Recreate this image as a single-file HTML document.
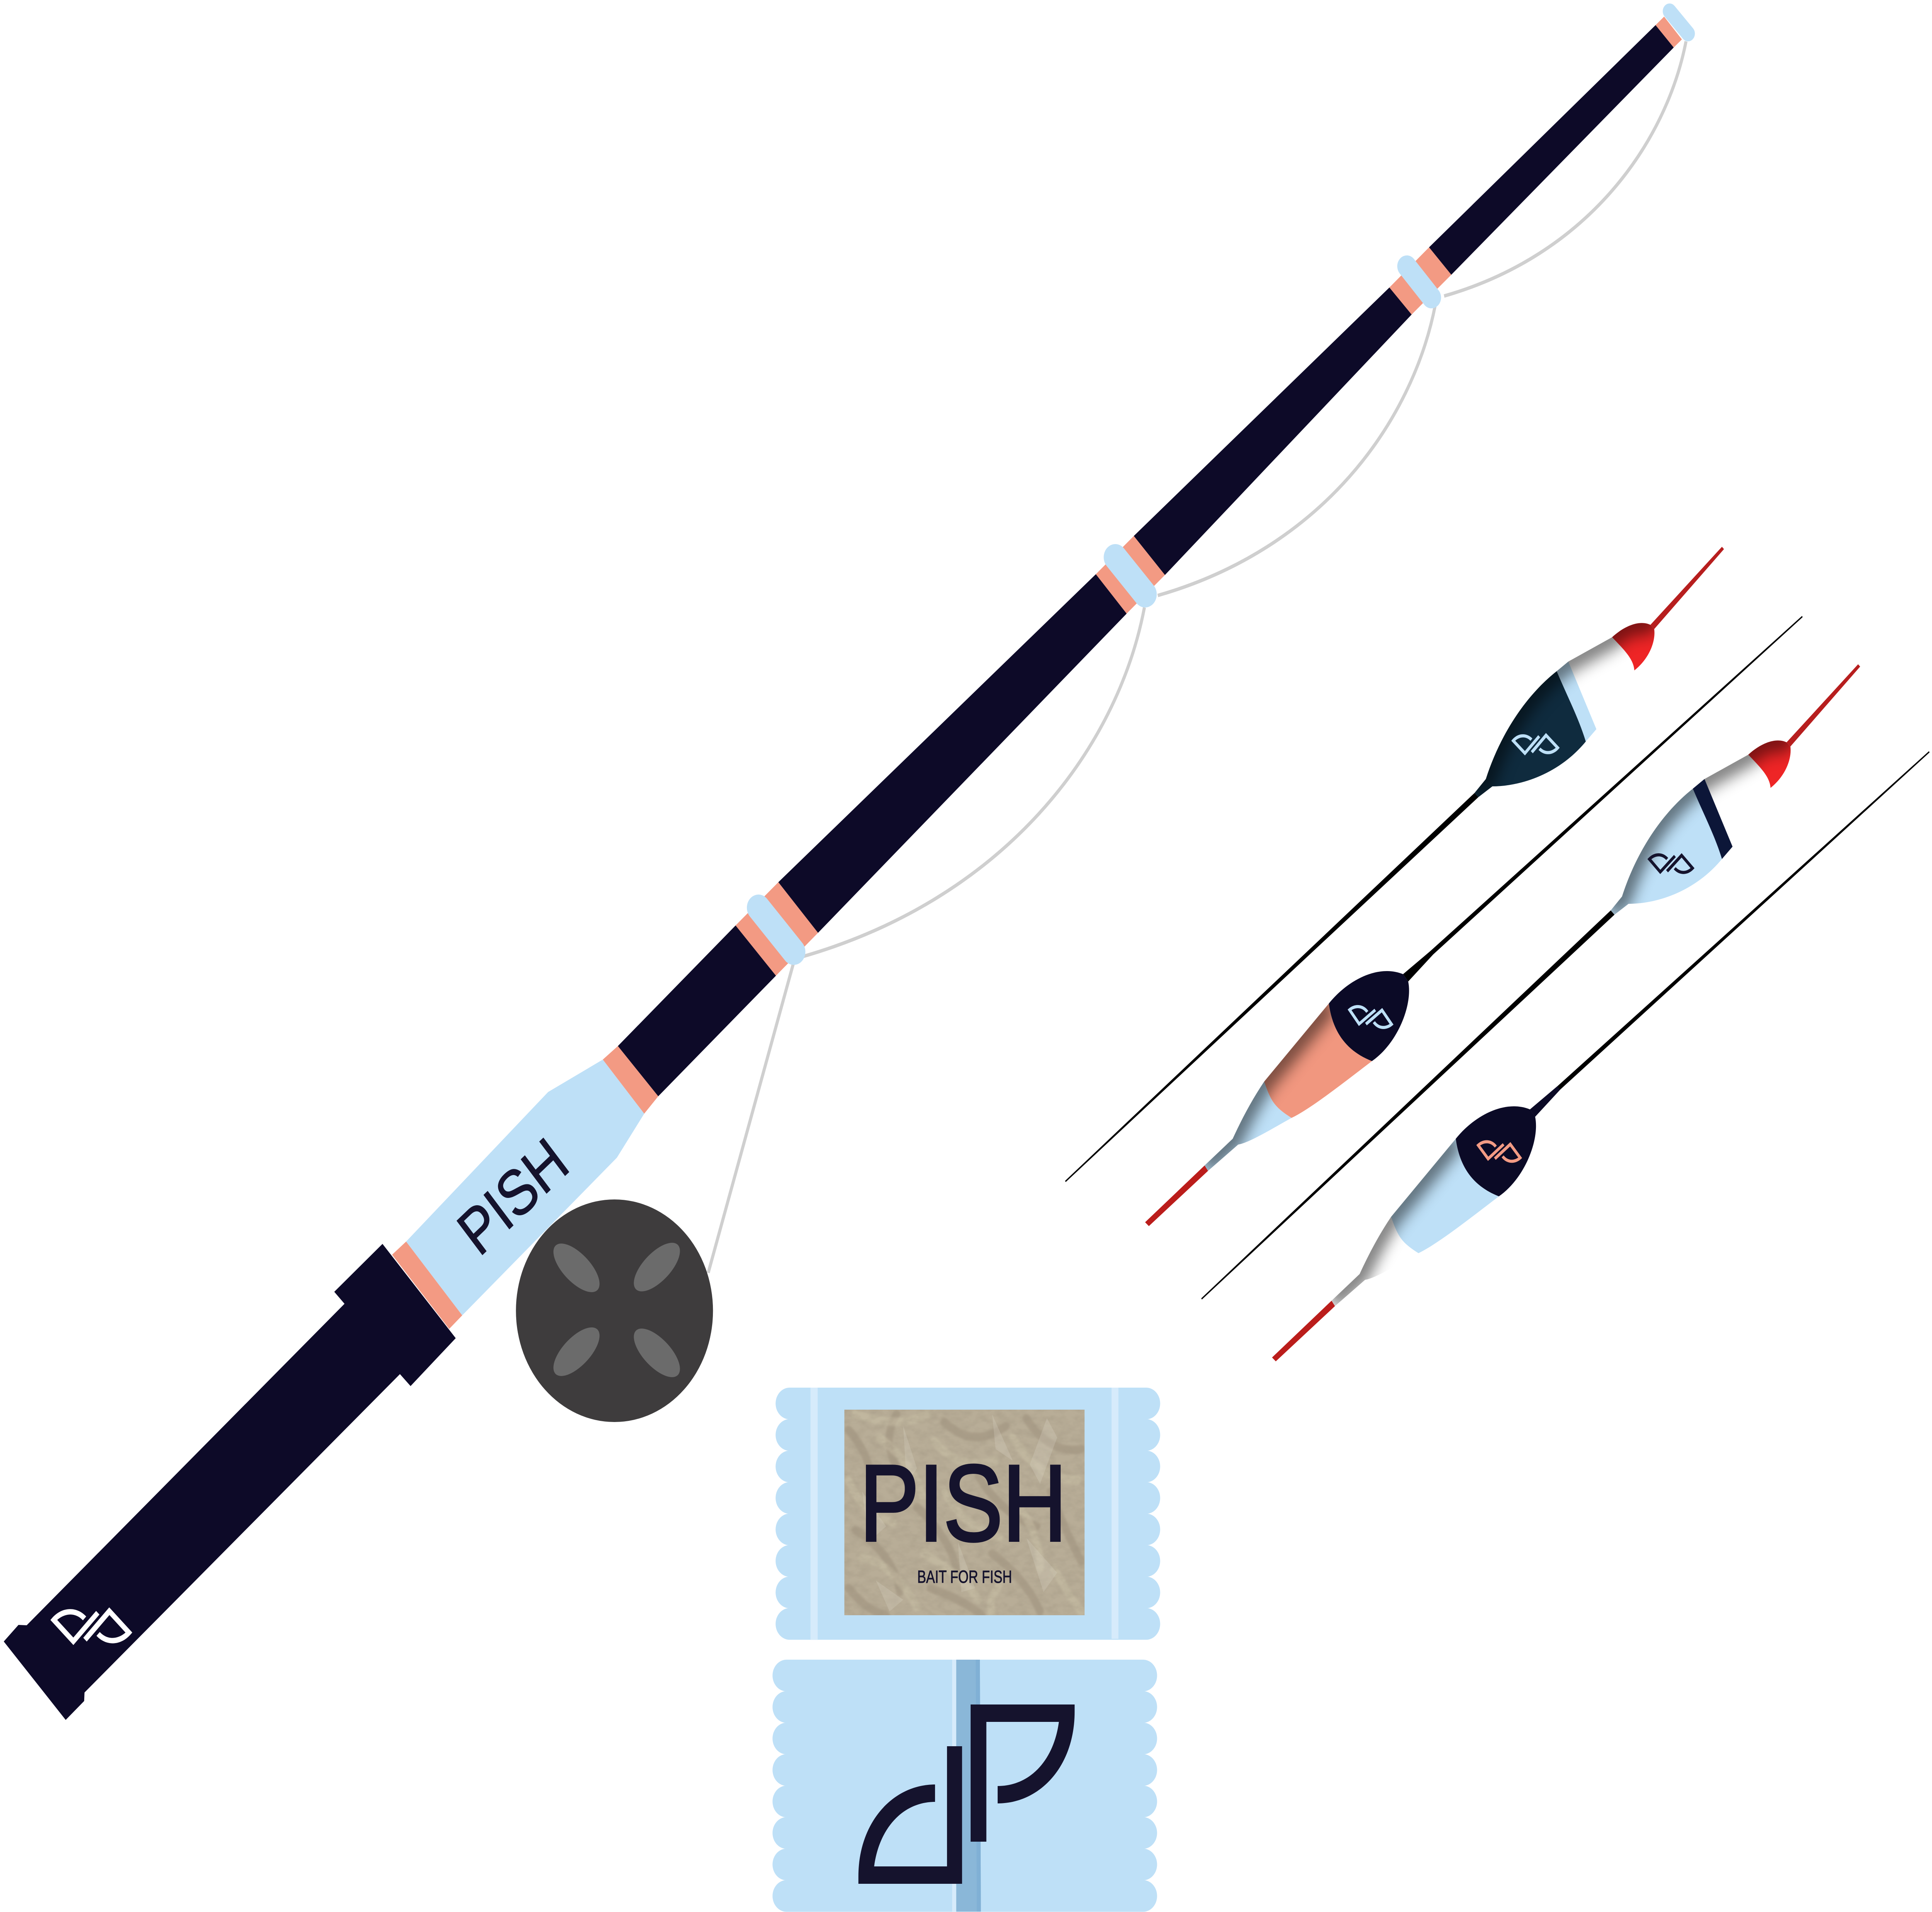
<!DOCTYPE html>
<html>
<head>
<meta charset="utf-8">
<title>PISH</title>
<style>
html,body{margin:0;padding:0;background:#fff;overflow:hidden;width:100%;height:100%}
svg{display:block;position:absolute;left:0;top:0;width:100vw;height:100vh}
text{font-family:"Liberation Sans",sans-serif;fill:#15132d}
</style>
</head>
<body>
<svg xmlns="http://www.w3.org/2000/svg" viewBox="0 0 5647 4948" preserveAspectRatio="none">
<defs>
<g id="logo">
<path d="M12 -232H316V-213C316 -73 215 24 91 24V-21C185 -21 255 -87 270 -187H58V123H12Z"/>
<path d="M-13 -124V232H-316V213C-316 73 -215 -25 -92 -25V20C-185 20 -255 87 -270 187H-57V-124Z"/>
</g>
<filter id="b" x="-40%" y="-40%" width="180%" height="180%"><feGaussianBlur stdDeviation="20"/></filter>
<filter id="b2" x="-20%" y="-20%" width="140%" height="140%"><feGaussianBlur stdDeviation="3"/></filter>
<filter id="noise" x="0" y="0" width="100%" height="100%">
<feTurbulence type="fractalNoise" baseFrequency="0.035 0.06" numOctaves="3" seed="7"/>
<feColorMatrix type="matrix" values="0 0 0 0 0.35  0 0 0 0 0.30  0 0 0 0 0.22  1.6 0 0 0 -0.55"/>
</filter>
<clipPath id="cUpper"><path d="M4310 2052L4343 2016C4385 1900 4460 1800 4550 1737L4584 1712L4712 1649C4745 1622 4790 1603 4824 1617L4835 1628C4840 1660 4820 1705 4777 1735L4666 1887L4635 1919C4560 2000 4450 2035 4362 2035L4321 2063Z"/></clipPath>
<clipPath id="cLower"><path d="M3884 2597L3695 2799C3660 2845 3630 2895 3603 2947L3521 3016L3531 3030L3619 2962C3650 2958 3720 2920 3775 2893C3830 2870 3930 2800 4010 2746C3935 2720 3895 2670 3884 2597Z"/></clipPath>
<clipPath id="cPic"><rect x="2468" y="3648" width="702" height="532"/></clipPath>
<g id="pack">
<rect x="0" y="0" width="1124" height="82" rx="41"/>
<rect x="0" y="81.5" width="1124" height="82" rx="41"/>
<rect x="0" y="163" width="1124" height="82" rx="41"/>
<rect x="0" y="244.5" width="1124" height="82" rx="41"/>
<rect x="0" y="326" width="1124" height="82" rx="41"/>
<rect x="0" y="407.5" width="1124" height="82" rx="41"/>
<rect x="0" y="489" width="1124" height="82" rx="41"/>
<rect x="0" y="570.5" width="1124" height="82" rx="41"/>
<rect x="41" y="0" width="1042" height="652"/>
</g>
</defs>

<rect width="5647" height="4948" fill="#fff"/>

<!-- fishing line -->
<g fill="none" stroke="#cfcfcf" stroke-width="9">
<path d="M4928 107C4870 370 4640 660 4221 766"/>
<path d="M4195 790C4128 1092 3865 1419 3384 1541"/>
<path d="M3345 1572C3265 1942 2934 2326 2344 2476"/>
<path d="M2320 2490L2070 3294"/>
</g>

<!-- rod -->
<path fill="#bee0f7" d="M1187 3213L1602 2826L1762 2742L1883 2882L1803 2996L1351 3404Z"/>
<path fill="#f39a83" d="M1146 3247L1187 3213L1351 3404L1313 3439Z"/>
<path fill="#f39a83" d="M1762 2742L1806 2707L1924 2837L1883 2882Z"/>
<path fill="#f39a83" d="M2150 2395L2275 2283L2391 2414L2268 2525Z"/>
<path fill="#f39a83" d="M3203 1486L3314 1387L3405 1488L3293 1588Z"/>
<path fill="#f39a83" d="M4061 744L4177 640L4242 711L4126 814Z"/>
<path fill="#f39a83" d="M4839 65L4864 43L4916 102L4892 123Z"/>
<g fill="#0d0a28">
<path d="M11 4248L54 4205L78 4206L1007 3374L977 3343L1118 3219L1332 3463L1200 3587L1169 3556L247 4380L246 4402L192 4451Z"/>
<path d="M1806 2707L2150 2395L2268 2525L1924 2837Z"/>
<path d="M2275 2283L3203 1486L3293 1588L2391 2414Z"/>
<path d="M3314 1387L4061 744L4126 814L3405 1488Z"/>
<path d="M4177 640L4839 65L4892 123L4242 711Z"/>
</g>
<g stroke="#bee0f7" stroke-linecap="round" fill="none">
<path stroke-width="68" d="M2217 2349L2320 2463"/>
<path stroke-width="68" d="M3260 1442L3347 1538"/>
<path stroke-width="56" d="M4112 689L4184 770"/>
<path stroke-width="40" d="M4880 29L4934 87"/>
</g>
<use href="#logo" fill="#fff" transform="translate(267 4208.5) rotate(44) scale(.308)"/>
<text transform="translate(1400.5 3255) rotate(-40.3)" font-size="167" textLength="356" lengthAdjust="spacingAndGlyphs" stroke="#15132d" stroke-width="2">PISH</text>

<!-- reel -->
<circle cx="1796" cy="3392" r="288" fill="#3e3c3d"/>
<g fill="#6b6b6b">
<ellipse cx="0" cy="0" rx="84" ry="38" transform="translate(1685 3281) rotate(42)"/>
<ellipse cx="0" cy="0" rx="84" ry="38" transform="translate(1920 3279) rotate(-42)"/>
<ellipse cx="0" cy="0" rx="84" ry="38" transform="translate(1685 3498) rotate(-42)"/>
<ellipse cx="0" cy="0" rx="84" ry="38" transform="translate(1920 3501) rotate(42)"/>
</g>

<!-- upper float 1 -->
<g>
<path fill="#000" d="M4310 2052L4321 2063L3115 3059L3113 3056Z"/>
<path fill="#b71e1e" d="M4824 1617L5033 1415L5039 1421L4835 1628Z"/>
<path fill="#fff" d="M4584 1712L4712 1649C4745 1680 4775 1705 4777 1735L4666 1887Z"/>
<path fill="#bee0f7" d="M4550 1737L4584 1712L4666 1887L4635 1919C4615 1860 4580 1800 4550 1737Z"/>
<path fill="#0f2b3e" d="M4310 2052L4343 2016C4385 1900 4460 1800 4550 1737C4580 1800 4615 1860 4635 1919C4560 2000 4450 2035 4362 2035L4321 2063Z"/>
<path fill="#ee2526" d="M4712 1649C4745 1622 4790 1603 4824 1617L4835 1628C4840 1660 4820 1705 4777 1735C4775 1705 4745 1680 4712 1649Z"/>
<g clip-path="url(#cUpper)"><path fill="none" stroke="#000" stroke-width="60" opacity=".5" filter="url(#b)" d="M4310 2052L4343 2016C4385 1900 4460 1800 4550 1737L4584 1712L4712 1649C4745 1622 4790 1603 4824 1617L4835 1628"/></g>
<use href="#logo" fill="#bee0f7" transform="translate(4488 1926) rotate(43.5) scale(.182)"/>
</g>

<!-- upper float 2 -->
<g transform="translate(398 304)">
<path fill="#000" d="M4310 2052L4321 2063L3115 3059L3113 3056Z"/>
<path fill="#b71e1e" d="M4824 1617L5033 1415L5039 1421L4835 1628Z"/>
<path fill="#fff" d="M4584 1712L4712 1649C4745 1680 4775 1705 4777 1735L4666 1887Z"/>
<path fill="#bee0f7" d="M4310 2052L4343 2016C4385 1900 4460 1800 4550 1737C4580 1800 4615 1860 4635 1919C4560 2000 4450 2035 4362 2035L4321 2063Z"/>
<path fill="#ee2526" d="M4712 1649C4745 1622 4790 1603 4824 1617L4835 1628C4840 1660 4820 1705 4777 1735C4775 1705 4745 1680 4712 1649Z"/>
<g clip-path="url(#cUpper)"><path fill="none" stroke="#000" stroke-width="60" opacity=".5" filter="url(#b)" d="M4310 2052L4343 2016C4385 1900 4460 1800 4550 1737L4584 1712L4712 1649C4745 1622 4790 1603 4824 1617L4835 1628"/></g>
<path fill="#0c1638" d="M4550 1737L4584 1712L4666 1887L4635 1919C4615 1860 4580 1800 4550 1737Z"/>
<use href="#logo" fill="#15132d" transform="translate(4486 1931) rotate(46) scale(.178)"/>
</g>

<!-- lower float 3 -->
<g>
<path fill="#000" d="M4101 2521L4181 2461L5267 1594L5269 1597L4189 2470L4116 2540Z"/>
<path fill="#bb1d1b" d="M3521 3016L3531 3030L3358 3173L3347 3163Z"/>
<path fill="#bee0f7" d="M3695 2799C3660 2845 3630 2895 3603 2947L3521 3016L3531 3030L3619 2962C3650 2958 3720 2920 3775 2893C3725 2865 3715 2850 3695 2799Z"/>
<path fill="#f1977f" d="M3884 2597L3695 2799C3715 2850 3725 2865 3775 2893C3830 2870 3930 2800 4010 2746C3935 2720 3895 2670 3884 2597Z"/>
<g clip-path="url(#cLower)"><path fill="none" stroke="#000" stroke-width="60" opacity=".5" filter="url(#b)" d="M3884 2597L3695 2799C3660 2845 3630 2895 3603 2947L3521 3016"/></g>
<path fill="#0b0a26" d="M3884 2597C3940 2535 4030 2495 4101 2521L4116 2540C4130 2600 4085 2700 4010 2746C3935 2720 3895 2670 3884 2597Z"/>
<use href="#logo" fill="#bee0f7" transform="translate(4006 2632) rotate(52.5) scale(.178)"/>
</g>

<!-- lower float 4 -->
<g transform="translate(371 350)">
<path fill="#000" d="M4101 2521L4181 2461L5267 1594L5269 1597L4189 2470L4116 2540Z"/>
<path fill="#0b0a26" d="M4101 2521L4181 2461L4189 2470L4116 2540Z"/>
<path fill="#bb1d1b" d="M3521 3016L3531 3030L3358 3173L3347 3163Z"/>
<path fill="#fff" d="M3695 2799C3660 2845 3630 2895 3603 2947L3521 3016L3531 3030L3619 2962C3650 2958 3720 2920 3775 2893C3725 2865 3715 2850 3695 2799Z"/>
<path fill="#bee0f7" d="M3884 2597L3695 2799C3715 2850 3725 2865 3775 2893C3830 2870 3930 2800 4010 2746C3935 2720 3895 2670 3884 2597Z"/>
<g clip-path="url(#cLower)"><path fill="none" stroke="#000" stroke-width="60" opacity=".5" filter="url(#b)" d="M3884 2597L3695 2799C3660 2845 3630 2895 3603 2947L3521 3016"/></g>
<path fill="#0b0a26" d="M3884 2597C3940 2535 4030 2495 4101 2521L4116 2540C4130 2600 4085 2700 4010 2746C3935 2720 3895 2670 3884 2597Z"/>
<use href="#logo" fill="#f39b84" transform="translate(4011 2630) rotate(50.3) scale(.176)"/>
</g>

<!-- top pack -->
<use href="#pack" fill="#bee0f7" transform="translate(2267 3591)"/>
<rect x="2369" y="3591" width="21" height="652" fill="#d6ebfb"/>
<rect x="3249" y="3591" width="20" height="650" fill="#d6ebfb"/>
<rect x="2468" y="3648" width="702" height="532" fill="#b8ad97"/>
<g clip-path="url(#cPic)">
<g filter="url(#b2)" fill="none" stroke-linecap="round" stroke-width="22">
<g stroke="#938670" opacity=".4">
<path d="M2480 3700C2540 3760 2560 3830 2540 3900"/>
<path d="M2620 3660C2580 3720 2600 3790 2660 3840"/>
<path d="M2760 3680C2820 3730 2880 3730 2940 3690"/>
<path d="M3000 3670C3040 3730 3100 3760 3160 3750"/>
<path d="M2500 3960C2560 3990 2620 4050 2630 4120"/>
<path d="M2680 3900C2740 3950 2790 4010 2800 4080"/>
<path d="M2860 3820C2900 3880 2960 3930 3030 3950"/>
<path d="M3070 3860C3100 3930 3130 3990 3160 4040"/>
<path d="M2900 4020C2960 4060 3010 4110 3040 4170"/>
<path d="M2720 4110C2780 4130 2830 4150 2870 4180"/>
<path d="M2480 4110C2510 4140 2540 4170 2590 4180"/>
</g>
<g stroke="#cdc3a9" opacity=".45">
<path d="M2500 3660C2570 3680 2650 3690 2710 3660"/>
<path d="M2570 3720C2630 3760 2680 3810 2700 3880"/>
<path d="M2730 3730C2790 3790 2850 3800 2910 3780"/>
<path d="M2960 3720C3010 3790 3060 3830 3150 3830"/>
<path d="M2480 3830C2500 3880 2550 3920 2610 3940"/>
<path d="M2760 3860C2800 3920 2850 3960 2920 3980"/>
<path d="M2960 3880C3010 3930 3040 3990 3040 4060"/>
<path d="M2520 4030C2580 4040 2640 4090 2680 4160"/>
<path d="M2700 4020C2760 4050 2820 4090 2860 4140"/>
<path d="M3080 4060C3110 4100 3130 4140 3160 4170"/>
<path d="M2920 4100C2900 4130 2890 4150 2900 4180"/>
</g>
</g>
<rect x="2468" y="3648" width="702" height="532" filter="url(#noise)" opacity=".45"/>
<g fill="#e4dfd2" opacity=".22">
<path d="M2640 3690L2680 3800L2650 3840Z"/>
<path d="M2900 3660L2960 3780L2910 3750Z"/>
<path d="M3060 3670L3010 3790L3040 3840L3090 3720Z"/>
<path d="M2520 3860L2590 3950L2540 3990Z"/>
<path d="M2800 3990L2850 4110L2810 4120Z"/>
<path d="M3000 3980L3090 4070L3050 4120Z"/>
<path d="M2560 4090L2640 4140L2600 4170Z"/>
</g>
</g>
<text x="2513" y="3986.5" font-size="280" textLength="605" lengthAdjust="spacingAndGlyphs" stroke="#15132d" stroke-width="7">PISH</text>
<text x="2681" y="4096" font-size="45" textLength="277" lengthAdjust="spacingAndGlyphs" stroke="#15132d" stroke-width="1">BAIT FOR FISH</text>

<!-- bottom pack -->
<use href="#pack" fill="#bee0f7" transform="translate(2258 4295)"/>
<rect x="2783" y="4295" width="12" height="652" fill="#d6ebfb"/>
<path fill="#8ab7d8" d="M2795 4295H2864L2867 4947H2795Z"/>
<path fill="#80b0d5" d="M2852 4295H2864L2867 4947H2855Z"/>
<use href="#logo" fill="#15132d" transform="translate(2825 4643)"/>
</svg>
</body>
</html>
